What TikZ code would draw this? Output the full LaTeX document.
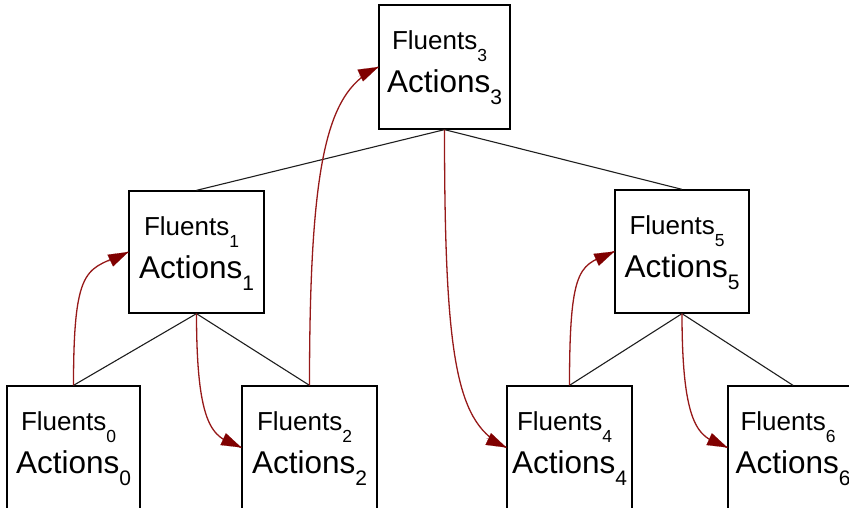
\documentclass[tikz,border=0pt]{standalone}
\usepackage{fontspec}
\setmainfont{Liberation Sans}
\usetikzlibrary{arrows.meta,calc}
\definecolor{arrline}{RGB}{150,25,25}
\definecolor{arrhead}{RGB}{128,0,0}
\definecolor{treeline}{RGB}{30,30,30}
\newcommand\flu[1]{\fontsize{26}{30}\selectfont Fluents\raisebox{-12pt}{\fontsize{17.5}{18}\selectfont #1}}
\newcommand\act[1]{\fontsize{31.5}{36}\selectfont Actions\raisebox{-12pt}{\fontsize{21}{21}\selectfont #1}}
\tikzset{
  box/.style={draw=black, line width=1.3pt, fill=white, inner sep=0pt},
  tree/.style={draw=treeline, line width=1.1pt},
  flow/.style={draw=arrline, line width=1.3pt},
  head/.style={draw=arrhead, line width=0.1pt, -{Triangle[length=20pt,width=13pt]}},
  txt/.style={anchor=base, inner sep=0pt}
}
\begin{document}
\begin{tikzpicture}[x=1pt,y=-1pt]
\useasboundingbox (0,0) rectangle (849,508);
\clip (0,0) rectangle (849,508);
% boxes
\node[box, minimum width=131pt, minimum height=124pt] (n3) at (444.5,67) {};
\node[box, minimum width=135pt, minimum height=122pt] (n1) at (196.5,252) {};
\node[box, minimum width=134pt, minimum height=123pt] (n5) at (682,251.5) {};
\node[box, minimum width=133pt, minimum height=123pt] (n0) at (73.5,447.5) {};
\node[box, minimum width=135pt, minimum height=123pt] (n2) at (309.5,447.5) {};
\node[box, minimum width=125pt, minimum height=123pt] (n4) at (569.5,447.5) {};
\node[box, minimum width=130pt, minimum height=123pt] (n6) at (793,447.5) {};
% tree edges
\draw[tree] (n3.south) -- (n1.north);
\draw[tree] (n3.south) -- (n5.north);
\draw[tree] (n1.south) -- (n0.north);
\draw[tree] (n1.south) -- (n2.north);
\draw[tree] (n5.south) -- (n4.north);
\draw[tree] (n5.south) -- (n6.north);
% texts
\foreach \i in {0,...,6}{
  \node[txt] (f\i) at ($(n\i.north)+(-5,45)$) {\flu{\i}};
  \node[txt] (a\i) at ($(n\i.north)+(0,88)$) {\act{\i}};
}
% flow arrows
\draw[flow] (n0.north) .. controls +(0,-127) and +(-40,19) .. (n1.west);
\draw[head] ($(n1.west)+(-20,9.5)$) -- (n1.west);
\draw[flow] (n1.south) .. controls +(0,127) and +(-24,-11) .. (n2.west);
\draw[head] ($(n2.west)+(-20,-9.2)$) -- (n2.west);
\draw[flow] (n2.north) .. controls +(0,-236) and +(-49,23) .. (n3.west);
\draw[head] ($(n3.west)+(-20,9.4)$) -- (n3.west);
\draw[flow] (n3.south) .. controls +(0,236) and +(-49,-23) .. (n4.west);
\draw[head] ($(n4.west)+(-20,-9.4)$) -- (n4.west);
\draw[flow] (n4.north) .. controls +(0,-127) and +(-33,15) .. (n5.west);
\draw[head] ($(n5.west)+(-20,9.1)$) -- (n5.west);
\draw[flow] (n5.south) .. controls +(0,127) and +(-24,-11) .. (n6.west);
\draw[head] ($(n6.west)+(-20,-9.2)$) -- (n6.west);
\end{tikzpicture}
\end{document}
